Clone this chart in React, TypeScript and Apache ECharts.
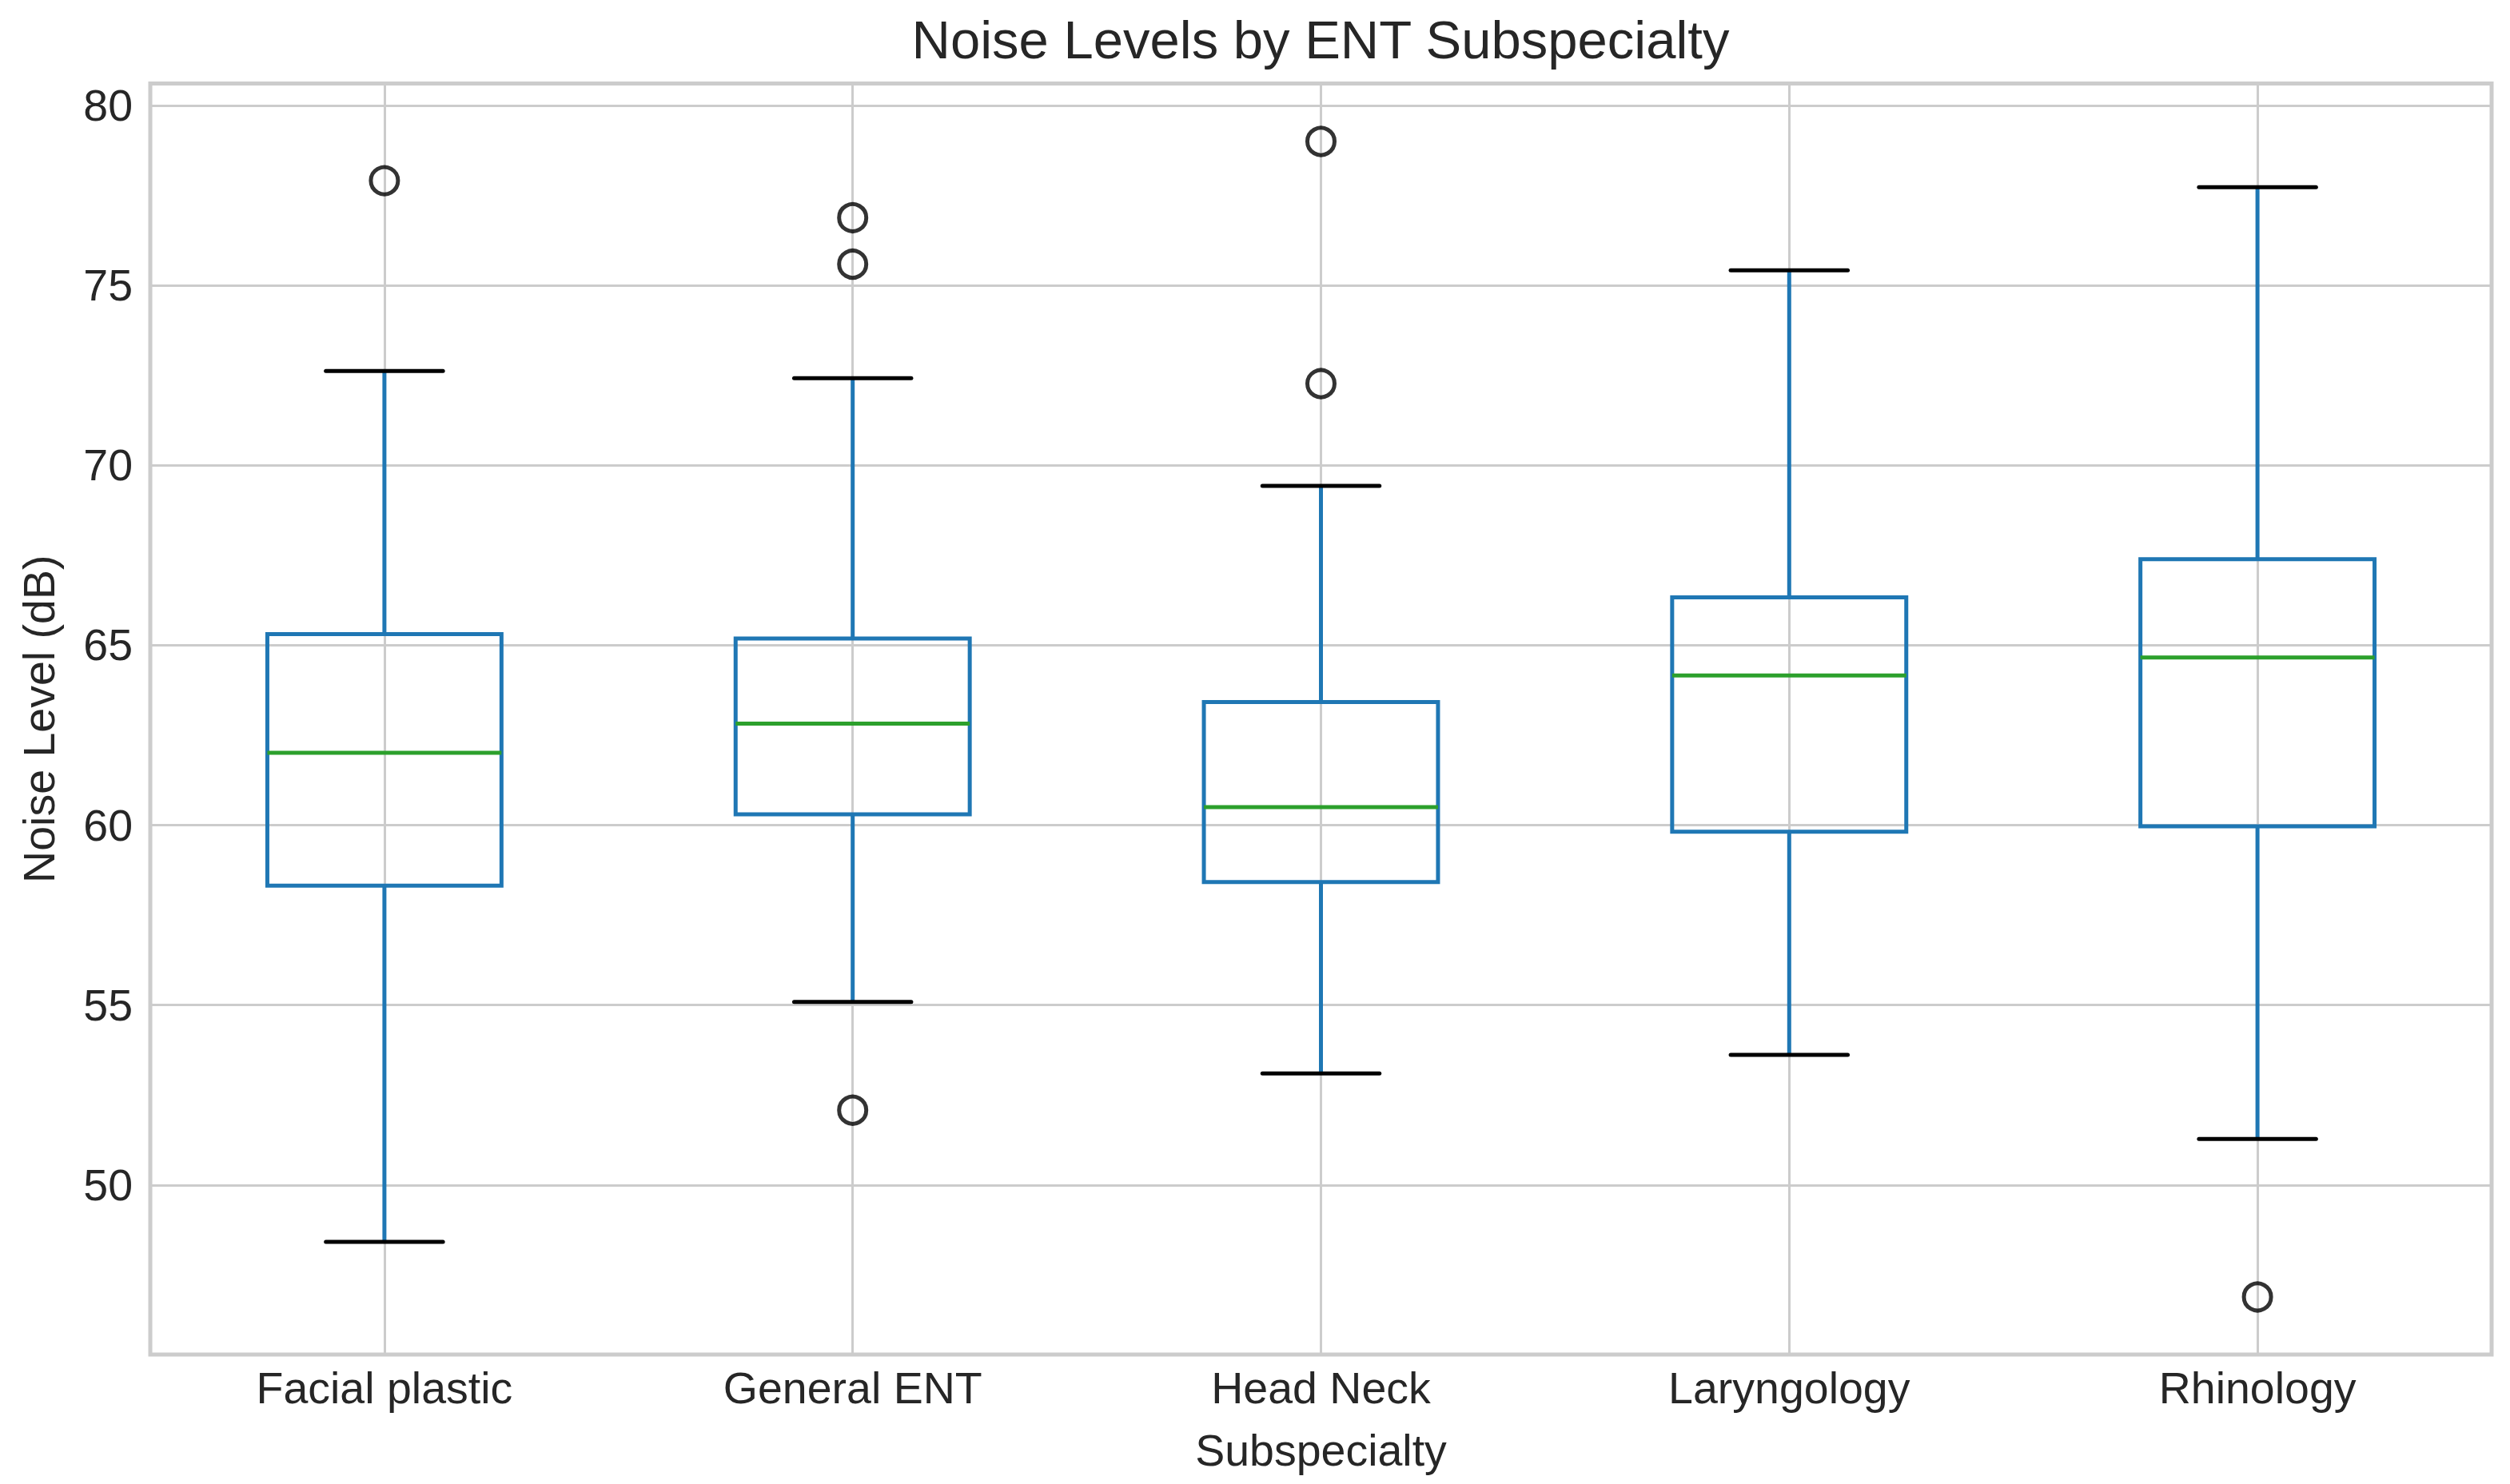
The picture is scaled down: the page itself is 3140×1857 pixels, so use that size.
import React, { useEffect, useRef } from "react";
import * as echarts from "echarts";

const categories = ["Facial plastic", "General ENT", "Head Neck", "Laryngology", "Rhinology"];
const whiskerLow = [48.42, 55.09, 53.1, 53.62, 51.28];
const quartile1 = [58.32, 60.3, 58.42, 59.82, 59.97];
const medians = [62.01, 62.82, 60.5, 64.16, 64.66];
const quartile3 = [65.31, 65.19, 63.42, 66.33, 67.39];
const whiskerHigh = [72.62, 72.42, 69.43, 75.42, 77.73];
const outlierCategory = ["Facial plastic", "General ENT", "General ENT", "General ENT", "Head Neck", "Head Neck", "Rhinology"];
const outlierValue = [77.91, 76.88, 75.59, 52.08, 79.0, 72.27, 46.89];
const yMin = 45.29;
const yMax = 80.61;

const BLUE = "#1f77b4";
const GREEN = "#2ca02c";
const TEXT = "#262626";
const GRID = "#cccccc";
const FONT = "'Liberation Sans', Arial, sans-serif";

export default function App() {
  const ref = useRef<HTMLDivElement>(null);
  useEffect(() => {
    if (!ref.current) return;
    const chart = echarts.init(ref.current, undefined, { renderer: "svg" });
    const boxData = categories.map((c, i) => [i, whiskerLow[i], quartile1[i], medians[i], quartile3[i], whiskerHigh[i]]);
    const outData = outlierCategory.map((c, i) => [c, outlierValue[i]]);
    const lw = 5;
    chart.setOption({
      animation: false,
      backgroundColor: "#ffffff",
      textStyle: { fontFamily: FONT },
      graphic: [
        {
          type: "text",
          x: 1652,
          y: 49,
          style: {
            text: "Noise Levels by ENT Subspecialty",
            fontSize: 67,
            fontFamily: FONT,
            fill: TEXT,
            textAlign: "center",
            textVerticalAlign: "middle",
          },
        },
      ],
      grid: {
        left: 188,
        right: 23,
        top: 104.5,
        bottom: 162,
        show: true,
        borderColor: GRID,
        borderWidth: 5,
        backgroundColor: "transparent",
      },
      xAxis: {
        type: "category",
        data: categories,
        boundaryGap: true,
        name: "Subspecialty",
        nameLocation: "middle",
        nameGap: 92,
        nameTextStyle: { fontSize: 55.5, color: TEXT, fontFamily: FONT },
        axisLine: { show: false },
        axisTick: { show: false },
        axisLabel: { fontSize: 55.5, color: TEXT, margin: 14, fontFamily: FONT, interval: 0 },
        splitLine: { show: true, alignWithLabel: true, interval: 0, lineStyle: { color: GRID, width: 3 } },
      },
      yAxis: {
        type: "value",
        min: yMin,
        max: yMax,
        splitNumber: 7,
        name: "Noise Level (dB)",
        nameLocation: "middle",
        nameGap: 111,
        nameTextStyle: { fontSize: 55.5, color: TEXT, fontFamily: FONT },
        axisLine: { show: false },
        axisTick: { show: false },
        axisLabel: {
          fontSize: 55.5,
          color: TEXT,
          margin: 22,
          fontFamily: FONT,
          showMinLabel: false,
          showMaxLabel: false,
          formatter: (v: number) => (Math.abs(v % 5) < 1e-6 ? String(Math.round(v)) : ""),
        },
        splitLine: { show: true, lineStyle: { color: GRID, width: 3 } },
      },
      series: [
        {
          type: "custom",
          z: 2,
          data: boxData,
          encode: { x: 0, y: [1, 2, 3, 4, 5] },
          renderItem: (params: any, api: any) => {
            const idx = api.value(0);
            const lo = api.coord([idx, api.value(1)]);
            const b1 = api.coord([idx, api.value(2)]);
            const md = api.coord([idx, api.value(3)]);
            const b3 = api.coord([idx, api.value(4)]);
            const hi = api.coord([idx, api.value(5)]);
            const band = api.size([1, 0])[0];
            const x = md[0];
            const hw = band * 0.25;
            const cw = band * 0.125;
            return {
              type: "group",
              children: [
                { type: "line", shape: { x1: x, y1: b1[1], x2: x, y2: lo[1] }, style: { stroke: BLUE, lineWidth: lw } },
                { type: "line", shape: { x1: x, y1: b3[1], x2: x, y2: hi[1] }, style: { stroke: BLUE, lineWidth: lw } },
                {
                  type: "rect",
                  shape: { x: x - hw, y: b3[1], width: hw * 2, height: b1[1] - b3[1] },
                  style: { fill: "none", stroke: BLUE, lineWidth: lw },
                },
                { type: "line", shape: { x1: x - hw, y1: md[1], x2: x + hw, y2: md[1] }, style: { stroke: GREEN, lineWidth: lw } },
                { type: "line", shape: { x1: x - cw, y1: lo[1], x2: x + cw, y2: lo[1] }, style: { stroke: "#000", lineWidth: lw, lineCap: "round" } },
                { type: "line", shape: { x1: x - cw, y1: hi[1], x2: x + cw, y2: hi[1] }, style: { stroke: "#000", lineWidth: lw, lineCap: "round" } },
              ],
            };
          },
        },
        {
          type: "scatter",
          z: 3,
          data: outData,
          symbol: "circle",
          symbolSize: 34,
          itemStyle: { color: "rgba(0,0,0,0)", borderColor: "#000000", borderWidth: 5 },
        },
      ],
    });
    return () => chart.dispose();
  }, []);
  return <div ref={ref} style={{ position: "absolute", left: 0, top: 0, width: 3140, height: 1857 }} />;
}
